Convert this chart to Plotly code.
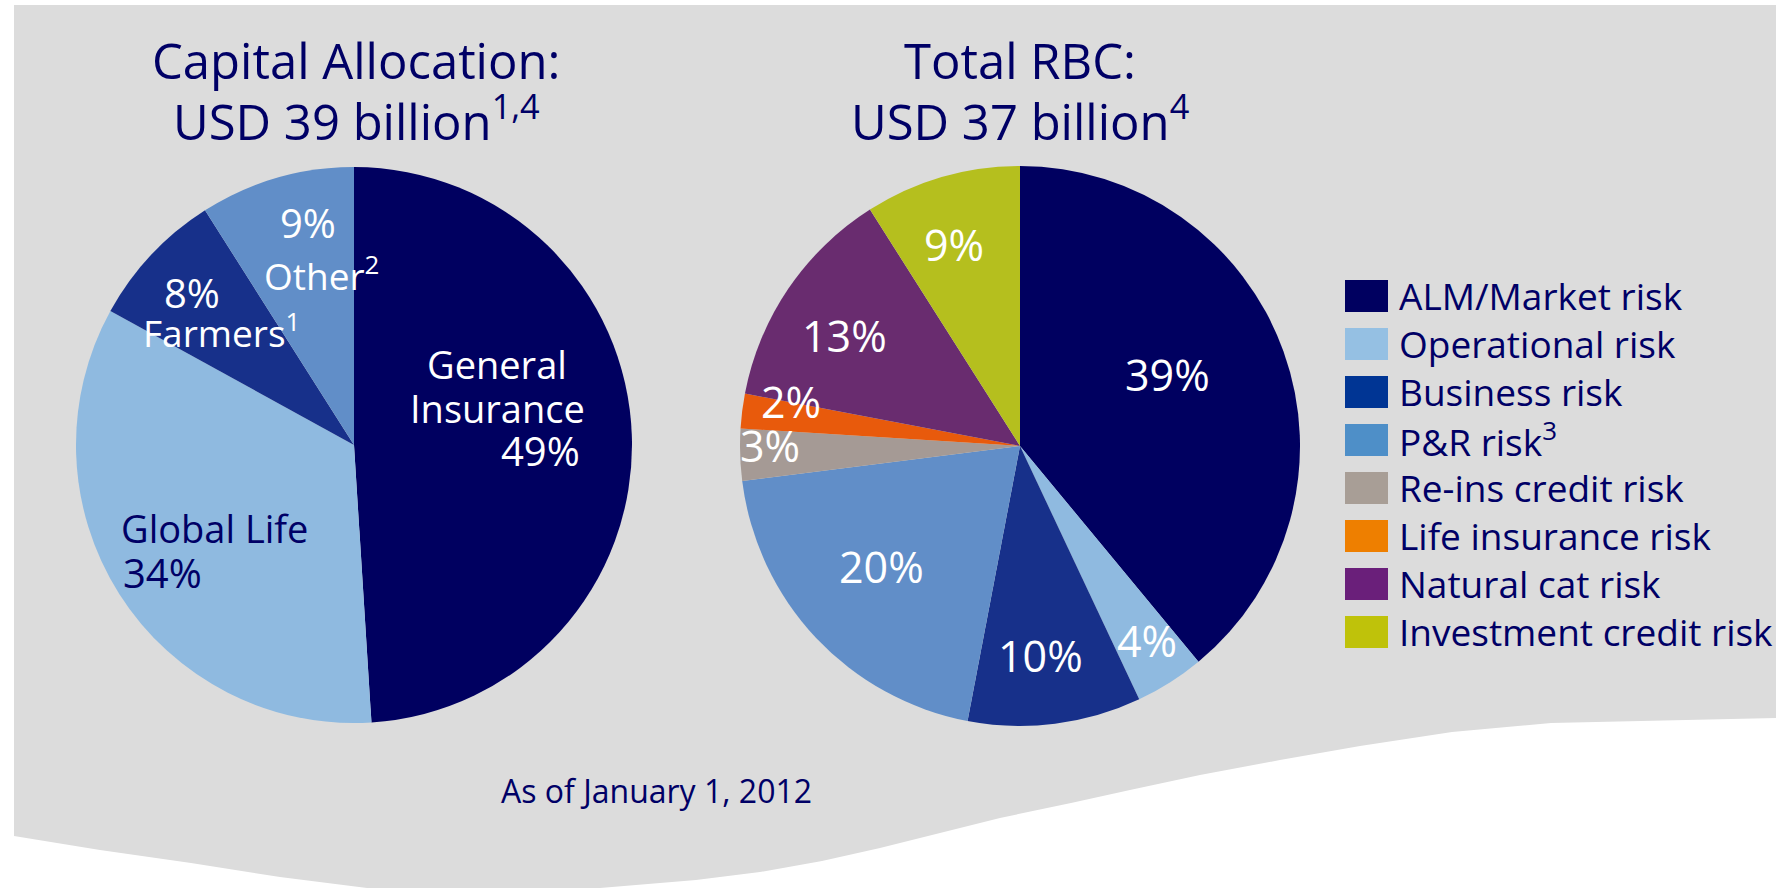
import plotly.graph_objects as go

W, H = 1776, 888

# ---- data ----
alloc_labels = ["General Insurance", "Global Life", "Farmers", "Other"]
alloc_values = [49, 34, 8, 9]
alloc_colors = ["#000060", "#8FBAE0", "#17308A", "#618EC8"]

rbc_labels = ["ALM/Market risk", "Operational risk", "Business risk", "P&R risk",
              "Re-ins credit risk", "Life insurance risk", "Natural cat risk",
              "Investment credit risk"]
rbc_values = [39, 4, 10, 20, 3, 2, 13, 9]
rbc_colors = ["#000060", "#8FBAE0", "#17308A", "#618EC8",
              "#A59A95", "#E85A0C", "#692C6F", "#B5BF1E"]

legend_text = ["ALM/Market risk", "Operational risk", "Business risk",
               "P&amp;R risk<sup>3</sup>", "Re-ins credit risk",
               "Life insurance risk", "Natural cat risk", "Investment credit risk"]
legend_colors = ["#000060", "#95C0E3", "#003594", "#4E8FC8",
                 "#A89E96", "#EE7F00", "#6A1F7A", "#BFC20A"]

title_left = ["Capital Allocation:", "USD 39 billion<sup>1,4</sup>"]
title_right = ["Total RBC:", "USD 37 billion<sup>4</sup>"]
footnote = "As of January 1, 2012"

NAVY = "#000066"
FONT = "Open Sans"


def px(x):
    return x / W


def py(y):
    return 1 - y / H


fig = go.Figure()


def pie_domain(cx, cy, r):
    return dict(x=[px(cx - r), px(cx + r)], y=[py(cy + r), py(cy - r)])


fig.add_trace(go.Pie(
    labels=alloc_labels, values=alloc_values, sort=False, direction="clockwise",
    rotation=0, marker=dict(colors=alloc_colors, line=dict(width=0)),
    textinfo="none", hoverinfo="label+percent", showlegend=False,
    domain=pie_domain(354, 445, 278),
))
fig.add_trace(go.Pie(
    labels=rbc_labels, values=rbc_values, sort=False, direction="clockwise",
    rotation=0, marker=dict(colors=rbc_colors, line=dict(width=0)),
    textinfo="none", hoverinfo="label+percent", showlegend=False,
    domain=pie_domain(1020, 446, 280),
))

annotations = []


def note(text, x, y, size=38, color="white", xanchor="center", yanchor="middle"):
    annotations.append(dict(
        text=text, x=px(x), y=py(y), xref="paper", yref="paper",
        showarrow=False, xanchor=xanchor, yanchor=yanchor,
        font=dict(family=FONT, size=size, color=color),
    ))


# titles
for i, line in enumerate(title_left):
    note(line, 356, 60 + i * 58, size=49, color=NAVY)
for i, line in enumerate(title_right):
    note(line, 1020, 60 + i * 58, size=49, color=NAVY)

# left pie labels
gi, gl, fa, ot = alloc_values
note(f"{ot}%", 308, 222, size=40)
note("Other<sup>2</sup>", 321, 273, size=37)
note(f"{fa}%", 192, 292, size=40)
note("Farmers<sup>1</sup>", 221, 330, size=37)
note("General", 497, 364)
note("Insurance", 497, 408)
note(f"{gi}%", 582, 450, size=40, xanchor="right")
note("Global Life", 119, 528, color=NAVY, xanchor="left")
note(f"{gl}%", 121, 572, size=40, color=NAVY, xanchor="left")

# right pie labels
rbc_label_pos = [(1167, 374), (1147, 640), (1040, 655), (881, 566),
                 (770, 445), (791, 401), (844, 335), (954, 244)]
for v, (x, y) in zip(rbc_values, rbc_label_pos):
    note(f"{v}%", x, y, size=43)

# footnote
note(footnote, 656, 790, size=32, color=NAVY)

# custom legend
shapes = []
for i, (t, c) in enumerate(zip(legend_text, legend_colors)):
    top = 280 + i * 48
    shapes.append(dict(type="rect", xref="paper", yref="paper",
                       x0=px(1345), x1=px(1388), y0=py(top + 32), y1=py(top),
                       fillcolor=c, line=dict(width=0), layer="above"))
    note(t, 1397, top + 15, size=37, color=NAVY, xanchor="left")

# grey backdrop with a wavy lower edge
edge = [(14, 5), (1776, 5), (1776, 718), (1551, 723), (1452, 732), (1360, 746),
        (1280, 760), (1200, 775), (1130, 790), (1071, 803), (1000, 818),
        (944, 832), (880, 848), (822, 861), (760, 872), (696, 880), (600, 888),
        (367, 888), (280, 877), (191, 863), (100, 850), (14, 836)]
path = "M " + " L ".join(f"{px(x):.5f},{py(y):.5f}" for x, y in edge) + " Z"
shapes.insert(0, dict(type="path", path=path, xref="paper", yref="paper",
                      fillcolor="#DCDCDC", line=dict(width=0), layer="below"))

fig.update_layout(
    width=W, height=H, margin=dict(l=0, r=0, t=0, b=0),
    paper_bgcolor="white", plot_bgcolor="white",
    shapes=shapes, annotations=annotations, showlegend=False,
)

fig.write_html("out.html", config={"displayModeBar": False})
